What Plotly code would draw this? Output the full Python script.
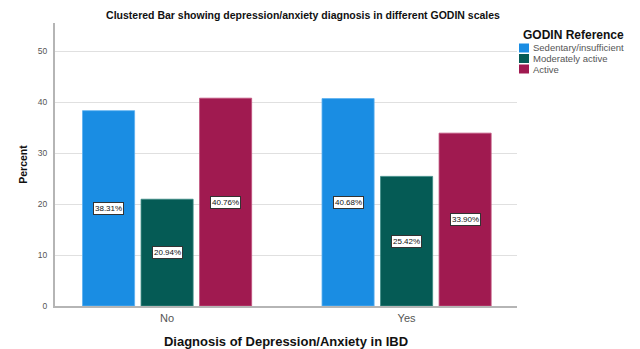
import plotly.graph_objects as go

categories = ["No", "Yes"]
series_names = ["Sedentary/insufficient", "Moderately active", "Active"]
sedentary = [38.31, 40.68]
moderate = [20.94, 25.42]
active = [40.76, 33.90]
series_values = [sedentary, moderate, active]
colors = ["#1a8de3", "#055b55", "#a01a50"]
edge_colors = ["#5ab0f0", "#3a8a84", "#c0507c"]

W, H = 640, 349
ml, mr, mt, mb = 55, 123, 23, 43
x_range = [-0.468, 1.461]
y_range = [0, 55.5]
bargap = 0.267
bargroupgap = 0.11
FONT = "Liberation Sans, Arial, sans-serif"

fig = go.Figure()
for name, vals, c, ec in zip(series_names, series_values, colors, edge_colors):
    fig.add_trace(go.Bar(
        x=categories, y=vals, name=name, showlegend=False,
        marker=dict(color=c, line=dict(color=ec, width=0.8)),
    ))

plot_w = W - ml - mr
plot_h = H - mt - mb
px_per_unit = plot_w / (x_range[1] - x_range[0])
slot = (1 - bargap) / len(series_values) * px_per_unit


def px_x(px):
    return (px - ml) / plot_w


def px_y(py):
    return 1 - (py - mt) / plot_h


annotations = []
for i, vals in enumerate(series_values):
    for cat, v in zip(categories, vals):
        annotations.append(dict(
            x=cat, y=v / 2, xref="x", yref="y",
            text=f"{v:.2f}%", showarrow=False,
            xshift=(i - 1) * slot,
            font=dict(family=FONT, size=8, color="#111"),
            bgcolor="white", bordercolor="#333", borderwidth=1, borderpad=1,
        ))

# compact legend, like the SPSS output
leg_left = 519
annotations.append(dict(
    x=px_x(leg_left + 2), y=px_y(35), xref="paper", yref="paper",
    xanchor="left", yanchor="middle", showarrow=False,
    text="<b>GODIN Reference</b>", font=dict(family=FONT, size=12, color="#111"),
))
shapes = []
item_y = [48, 58.5, 69]
for name, c, yy in zip(series_names, colors, item_y):
    shapes.append(dict(
        type="rect", xref="paper", yref="paper",
        x0=px_x(leg_left), x1=px_x(leg_left + 10),
        y0=px_y(yy + 4.5), y1=px_y(yy - 4.5),
        fillcolor=c, line=dict(width=0),
    ))
    annotations.append(dict(
        x=px_x(leg_left + 12), y=px_y(yy),
        xref="paper", yref="paper", xanchor="left", yanchor="middle",
        showarrow=False, text=name,
        font=dict(family=FONT, size=9.5, color="#555"),
    ))

fig.update_layout(
    width=W, height=H,
    margin=dict(l=ml, r=mr, t=mt, b=mb, autoexpand=False),
    paper_bgcolor="white", plot_bgcolor="white",
    barmode="group", bargap=bargap, bargroupgap=bargroupgap,
    font=dict(family=FONT, color="#444"),
    showlegend=False,
    title=dict(
        text="<b>Clustered Bar showing depression/anxiety diagnosis in different GODIN scales</b>",
        x=303 / W, xanchor="center", y=1 - 15 / H, yanchor="middle",
        font=dict(size=10.5, color="#111"),
    ),
    xaxis=dict(
        type="category", range=x_range, automargin=False,
        showline=True, linecolor="#b5b5b5", linewidth=1.5,
        ticks="", tickfont=dict(size=11, color="#555"), ticklabelstandoff=1,
        title=dict(text="<b>Diagnosis of Depression/Anxiety in IBD</b>",
                   font=dict(size=13, color="#111"), standoff=15),
        showgrid=False, zeroline=False,
    ),
    yaxis=dict(
        range=y_range, dtick=10, automargin=False,
        showline=True, linecolor="#b5b5b5", linewidth=2,
        ticks="", tickfont=dict(size=8.5, color="#555"), ticklabelstandoff=4,
        showgrid=True, gridcolor="#e0e0e0", gridwidth=1,
        zeroline=False,
        title=dict(text="<b>Percent</b>", font=dict(size=10.5, color="#111"), standoff=8),
    ),
    annotations=annotations,
    shapes=shapes,
)

fig.write_html("out.html", config={"displayModeBar": False},
               post_script="document.body.style.margin='0';")
